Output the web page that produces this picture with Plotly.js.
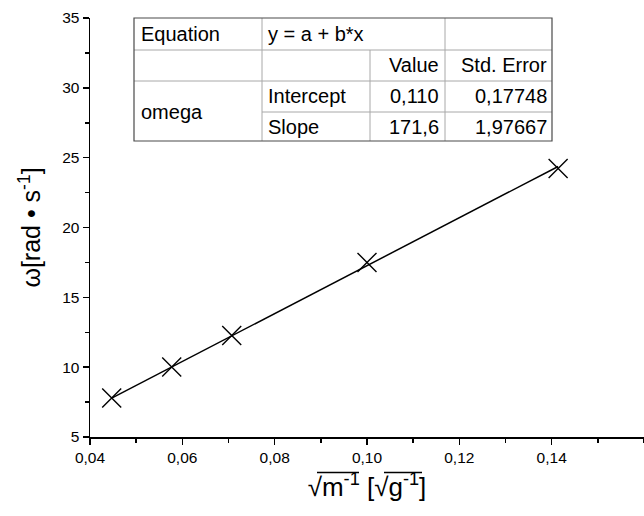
<!DOCTYPE html>
<html>
<head>
<meta charset="utf-8">
<script src="https://cdn.plot.ly/plotly-3.0.1.min.js"></script>
<style>html,body{margin:0;padding:0;background:#fff;}#chart{width:644px;height:516px;}</style>
</head>
<body>
<div id="chart"></div>
<script>
// ---- data ----
const xValues = [0.0447, 0.0577, 0.0707, 0.1000, 0.1414];   // sqrt(1/m) [sqrt(g^-1)]
const omegaValues = [7.80, 10.02, 12.27, 17.50, 24.22];     // omega [rad/s]
const fitX = [0.0447, 0.1414];                               // linear fit line ends
const fitY = [7.78, 24.37];
const xTickVals = [0.04, 0.06, 0.08, 0.10, 0.12, 0.14];
const xTickText = ["0,04", "0,06", "0,08", "0,10", "0,12", "0,14"];
const yTickVals = [5, 10, 15, 20, 25, 30, 35];
const yTickText = ["5", "10", "15", "20", "25", "30", "35"];
// fit table text
const tableRow1 = ["Equation", "y = a + b*x"];
const tableRow2 = ["Value", "Std. Error"];
const seriesName = "omega";
const paramNames = ["Intercept", "Slope"];
const paramValues = ["0,110", "171,6"];
const paramErrors = ["0,17748", "1,97667"];

// ---- layout geometry (pixels) ----
const W = 644, H = 516, L = 90, R = 0, T = 18, B = 79;
const PW = W - L - R, PH = H - T - B;
const px = X => (X - L) / PW;
const py = Y => (H - B - Y) / PH;
const FONT = "Liberation Sans, Arial, sans-serif";

const traces = [
  {x: fitX, y: fitY, mode: "lines", type: "scatter",
   line: {color: "#000", width: 1.5}, hoverinfo: "skip", showlegend: false},
  {x: xValues, y: omegaValues, mode: "markers", type: "scatter",
   marker: {symbol: "x-thin-open", size: 19, color: "#000", line: {color: "#000", width: 1.4}},
   showlegend: false}
];

// table geometry
const cx = [134, 262, 370, 445, 552];
const ry = [18, 50, 81, 112, 141];
const shapes = [];
const inner = "#a8a8a8", outer = "#4a4a4a";
function ln(x0, y0, x1, y1, c, w) {
  shapes.push({type: "line", xref: "paper", yref: "paper",
    x0: px(x0), y0: py(y0), x1: px(x1), y1: py(y1), line: {color: c, width: w}});
}
ln(cx[1], ry[0], cx[1], ry[4], inner, 1);
ln(cx[2], ry[1], cx[2], ry[4], inner, 1);
ln(cx[3], ry[0], cx[3], ry[4], inner, 1);
ln(cx[0], ry[1], cx[4], ry[1], inner, 1);
ln(cx[0], ry[2], cx[4], ry[2], inner, 1);
ln(cx[1], ry[3], cx[4], ry[3], inner, 1);
shapes.push({type: "rect", xref: "paper", yref: "paper",
  x0: px(cx[0]), y0: py(ry[4]), x1: px(cx[4]), y1: py(ry[0]),
  line: {color: outer, width: 1.2}, fillcolor: "rgba(0,0,0,0)"});
// radical overlines of the x-axis title
ln(317, 472.5, 359, 472.5, "#000", 1.3);
ln(384, 472.5, 422, 472.5, "#000", 1.3);

const annotations = [];
function txt(s, X, Y, anchor) {
  annotations.push({text: s, xref: "paper", yref: "paper", x: px(X), y: py(Y),
    xanchor: anchor, yanchor: "middle", showarrow: false,
    font: {family: FONT, size: 20, color: "#000"}});
}
const mid = i => (ry[i] + ry[i + 1]) / 2;
txt(tableRow1[0], cx[0] + 5, mid(0), "left");
txt(tableRow1[1], cx[1] + 4, mid(0), "left");
txt(tableRow2[0], cx[3] - 4, mid(1), "right");
txt(tableRow2[1], cx[4] - 3, mid(1), "right");
txt(seriesName, cx[0] + 5, ry[3], "left");
for (let i = 0; i < 2; i++) {
  txt(paramNames[i], cx[1] + 4, mid(2 + i), "left");
  txt(paramValues[i], cx[3] - 4, mid(2 + i), "right");
  txt(paramErrors[i], cx[4] - 3, mid(2 + i), "right");
}

const layout = {
  width: W, height: H,
  margin: {l: L, r: R, t: T, b: B, pad: 0},
  paper_bgcolor: "#fff", plot_bgcolor: "#fff",
  font: {family: FONT, color: "#000"},
  showlegend: false,
  xaxis: {
    range: [0.04, 0.16], showgrid: false, zeroline: false,
    showline: true, linecolor: "#000", linewidth: 1.5, mirror: false,
    ticks: "outside", ticklen: 6, tickwidth: 1.5, tickcolor: "#000",
    tickmode: "array", tickvals: xTickVals, ticktext: xTickText,
    tickfont: {family: FONT, size: 15.5, color: "#000"},
    minor: {dtick: 0.01, tick0: 0.04, ticks: "outside", ticklen: 4, tickwidth: 1.5, tickcolor: "#000", showgrid: false},
    title: {text: "√m<sup>-1</sup> [√g<sup>-1</sup>]", font: {family: FONT, size: 26, color: "#000"}, standoff: 12}
  },
  yaxis: {
    range: [5, 35], showgrid: false, zeroline: false,
    showline: true, linecolor: "#000", linewidth: 1.5, mirror: false,
    ticks: "outside", ticklen: 6, tickwidth: 1.5, tickcolor: "#000",
    tickmode: "array", tickvals: yTickVals, ticktext: yTickText,
    tickfont: {family: FONT, size: 15.5, color: "#000"},
    minor: {dtick: 2.5, tick0: 5, ticks: "outside", ticklen: 4, tickwidth: 1.5, tickcolor: "#000", showgrid: false},
    title: {text: "ω[rad • s<sup>-1</sup>]", font: {family: FONT, size: 25, color: "#000"}, standoff: 14}
  },
  shapes: shapes,
  annotations: annotations
};

Plotly.newPlot("chart", traces, layout, {staticPlot: true, displayModeBar: false});
</script>
</body>
</html>
